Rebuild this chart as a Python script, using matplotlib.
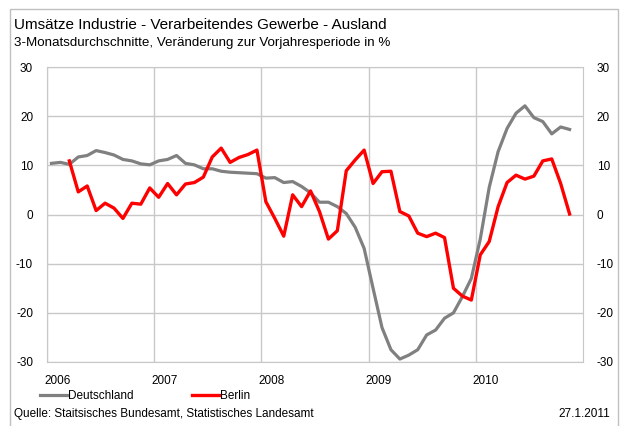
"""
Umsätze Industrie - Verarbeitendes Gewerbe - Ausland, 2006 bis 2010
"""

import matplotlib
matplotlib.use('Agg')
import matplotlib.pyplot as plt
import matplotlib.transforms as mtransforms
from matplotlib.patches import Rectangle

plt.rcParams['font.family'] = ['Liberation Sans', 'DejaVu Sans']
plt.rcParams['axes.unicode_minus'] = False

# Monatswerte ab Januar 2006 (Deutschland) bzw. März 2006 (Berlin)
years = ['2006', '2007', '2008', '2009', '2010']
deutschland = [10.4, 10.6, 10.2, 11.7, 12.0, 13.0, 12.6, 12.1, 11.2, 10.9, 10.3, 10.1,
               10.9, 11.2, 12.0, 10.4, 10.1, 9.3, 9.3, 8.8, 8.6, 8.5, 8.4, 8.3,
               7.4, 7.5, 6.5, 6.7, 5.7, 4.4, 2.5, 2.5, 1.6, 0.2, -2.6, -6.9,
               -15.0, -23.0, -27.5, -29.4, -28.6, -27.5, -24.5, -23.5, -21.1, -20.0, -16.7, -13.0,
               -5.0, 5.5, 12.8, 17.5, 20.6, 22.1, 19.7, 18.9, 16.4, 17.8, 17.3]
berlin = [10.9, 4.6, 5.8, 0.8, 2.3, 1.3, -0.8, 2.3, 2.1, 5.4,
          3.5, 6.3, 4.0, 6.2, 6.5, 7.6, 11.7, 13.5, 10.6, 11.6, 12.2, 13.1,
          2.6, -0.8, -4.4, 4.0, 1.6, 4.8, 0.6, -5.0, -3.3, 8.9, 11.1, 13.1,
          6.3, 8.7, 8.8, 0.6, -0.3, -3.8, -4.5, -3.8, -4.7, -15.0, -16.6, -17.4,
          -8.2, -5.5, 1.6, 6.5, 8.0, 7.2, 7.8, 10.9, 11.3, 6.3, 0.1]
berlin_start = 2
y_ticks = [-30, -20, -10, 0, 10, 20, 30]

grid_color = '#c8c8c8'

fig = plt.figure(figsize=(6.21, 4.26), dpi=100)
ax = fig.add_axes([47 / 621, 64 / 426, 536 / 621, 295 / 426])

# Werte in der Mitte des jeweiligen Monats
x_de = [i + 0.5 for i in range(len(deutschland))]
x_be = [berlin_start + i + 0.5 for i in range(len(berlin))]
line_de, = ax.plot(x_de, deutschland, color='#808080', lw=2.3, label='Deutschland',
                   solid_joinstyle='round', zorder=3)
line_be, = ax.plot(x_be, berlin, color='#ff0000', lw=2.4, label='Berlin',
                   solid_joinstyle='round', zorder=4)

ax.set_xlim(0, 12 * len(years))
ax.set_ylim(y_ticks[0], y_ticks[-1])
ax.set_yticks(y_ticks)
ax.set_xticks([12 * i for i in range(len(years))])
ax.set_xticklabels(years)
ax.grid(True, color=grid_color, lw=1)
ax.set_axisbelow(True)
ax.tick_params(length=0, labelsize=8.5, colors='black')
ax.tick_params(axis='y', pad=10)
ax.tick_params(axis='x', pad=9)
for spine in ax.spines.values():
    spine.set_color(grid_color)

# Jahreszahlen links am Gitter ausrichten
shift = mtransforms.ScaledTranslation(-3 / 100, 0, fig.dpi_scale_trans)
for lbl in ax.get_xticklabels():
    lbl.set_horizontalalignment('left')
    lbl.set_transform(lbl.get_transform() + shift)

# zweite y-Achse rechts
ax2 = ax.twinx()
ax2.set_ylim(ax.get_ylim())
ax2.set_yticks(y_ticks)
ax2.tick_params(length=0, labelsize=8.5, pad=10)
for spine in ax2.spines.values():
    spine.set_visible(False)

# Titel und Untertitel
fig.text(14 / 621, 1 - 25 / 426, 'Umsätze Industrie - Verarbeitendes Gewerbe - Ausland',
         fontsize=11, va='center', ha='left')
fig.text(14 / 621, 1 - 43 / 426, '3-Monatsdurchschnitte, Veränderung zur Vorjahresperiode in %',
         fontsize=9.6, va='center', ha='left')

# Legende
fig.legend(handles=[line_de, line_be], loc='center left',
           bbox_to_anchor=(40 / 621, 1 - 396 / 426), ncol=2, frameon=False,
           fontsize=8.5, handlelength=2.3, handletextpad=0.1, columnspacing=4.9,
           borderaxespad=0, borderpad=0)

# Quelle und Datum
fig.text(14 / 621, 1 - 414 / 426, 'Quelle: Staitsisches Bundesamt, Statistisches Landesamt',
         fontsize=8.5, va='center', ha='left')
fig.text(610 / 621, 1 - 414 / 426, '27.1.2011', fontsize=8.5, va='center', ha='right')

# Rahmen um die Grafik
fig.patches.append(Rectangle((10 / 621, -0.05), 608 / 621, 1.05 - 9 / 426,
                             transform=fig.transFigure, fill=False,
                             edgecolor='#c0c0c0', lw=1))

fig.savefig('out.png', dpi=100)
